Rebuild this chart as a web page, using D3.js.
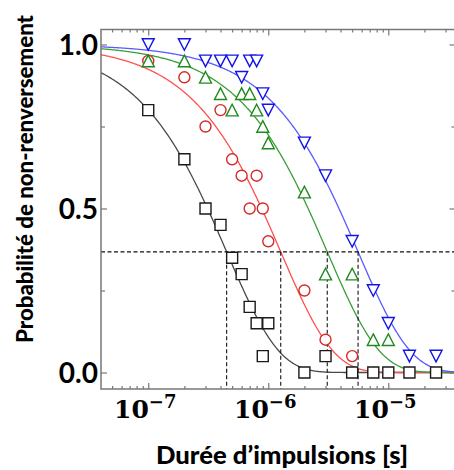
<!DOCTYPE html>
<html><head><meta charset="utf-8">
<script src="https://cdn.jsdelivr.net/npm/d3@7"></script>
<style>body{margin:0;background:#fff;overflow:hidden}</style>
</head><body>
<script>
// ---- data ----
const blackT = [1e-7,2e-7,3e-7,4e-7,5e-7,6e-7,7e-7,8e-7,9e-7,1e-6,2e-6,3e-6,5e-6,7.5e-6,1e-5,1.5e-5,2.5e-5];
const blackP = [0.80,0.65,0.50,0.45,0.35,0.30,0.20,0.15,0.05,0.15,0,0.05,0,0,0,0,0];
const redT = [1e-7,2e-7,3e-7,4e-7,5e-7,6e-7,7e-7,8e-7,9e-7,1e-6,2e-6,3e-6,5e-6];
const redP = [0.95,0.90,0.75,0.80,0.65,0.60,0.50,0.60,0.50,0.40,0.25,0.10,0.05];
const greenT = [1e-7,2e-7,3e-7,4e-7,5e-7,6e-7,7e-7,8e-7,9e-7,1e-6,2e-6,3e-6,5e-6,7.5e-6,1e-5];
const greenP = [0.95,0.95,0.90,0.85,0.80,0.85,0.85,0.80,0.75,0.70,0.55,0.30,0.30,0.10,0.10];
const blueT = [1e-7,2e-7,3e-7,4e-7,5e-7,6e-7,7e-7,8e-7,9e-7,1e-6,2e-6,3e-6,5e-6,7.5e-6,1e-5,1.5e-5,2.5e-5];
const blueP = [1.0,1.0,0.95,0.95,0.95,0.90,0.95,0.95,0.85,0.80,0.70,0.60,0.40,0.25,0.15,0.05,0.05];
// fit parameters P = exp(-(t/tau)^beta)
const fitTau = [4.5e-7, 1.27e-6, 3.1e-6, 5.6e-6];
const fitBeta = [1.0, 1.0, 1.0, 1.0];
const markerShapes = ["square","circle","up","down"];
const markerColors = ["#1a1a1a","#d42a2a","#1f8a1f","#1414e6"];
const curveColors = ["#4a4a4a","#ff5050","#3a9e3a","#5a5aff"];
const yMajor = [0, 0.5, 1.0];
const yMajorLabels = ["0.0","0.5","1.0"];
const yMinor = [0.25, 0.75];
const xMajor = [1e-7, 1e-6, 1e-5];
const xMajorExp = ["−7","−6","−5"];
const xLabel = "Durée d’impulsions [s]";
const yLabel = "Probabilité de non-renversement";
const threshold = Math.exp(-1);

const series = [
  {t: blackT, p: blackP}, {t: redT, p: redP}, {t: greenT, p: greenP}, {t: blueT, p: blueP}
];

// ---- layout ----
const W = 454, H = 470;
const L = 101, R = 455.5, T = 29.5, B = 389;
const x = d3.scaleLog().domain([4.04e-8, 3.63e-5]).range([L, R]);
const y = d3.scaleLinear().domain([-0.0503, 1.0457]).range([B, T]);

const svg = d3.select("body").append("svg").attr("width", W).attr("height", H);
svg.append("defs").append("clipPath").attr("id","clip")
  .append("rect").attr("x",L).attr("y",T).attr("width",R-L).attr("height",B-T);

const plot = svg.append("g").attr("clip-path","url(#clip)");

// fit curves
const [d0, d1] = x.domain();
const curveT = d3.range(0, 401).map(i => Math.pow(10, Math.log10(d0) + i/400*(Math.log10(d1)-Math.log10(d0))));
const line = d3.line().x(d => x(d[0])).y(d => y(d[1]));
fitTau.forEach((tau, i) => {
  plot.append("path")
    .attr("d", line(curveT.map(t => [t, Math.exp(-Math.pow(t/tau, fitBeta[i]))])))
    .attr("fill","none").attr("stroke", curveColors[i]).attr("stroke-width", 1.3);
});

// 1/e dashed lines
plot.append("line").attr("x1", L).attr("x2", R).attr("y1", y(threshold)).attr("y2", y(threshold))
  .attr("stroke","#111").attr("stroke-width",1.1).attr("stroke-dasharray","4,2.5");
fitTau.forEach(tau => {
  plot.append("line").attr("x1", x(tau)).attr("x2", x(tau)).attr("y1", y(threshold)).attr("y2", B)
    .attr("stroke","#111").attr("stroke-width",1.1).attr("stroke-dasharray","4,2.5");
});

// markers
function shapePath(s) {
  if (s === "square") return "M-5.5,-5.5H5.5V5.5H-5.5Z";
  if (s === "circle") return "M5.5,0A5.5,5.5 0 1,1 -5.5,0A5.5,5.5 0 1,1 5.5,0Z";
  if (s === "up") return "M0,-5.8L6,5.8L-6,5.8Z";
  return "M0,5.8L6,-5.8L-6,-5.8Z";
}
series.forEach((s, i) => {
  svg.append("g").selectAll("path").data(s.t.map((t, j) => [t, s.p[j]])).join("path")
    .attr("transform", d => `translate(${x(d[0])},${y(d[1])})`)
    .attr("d", shapePath(markerShapes[i]))
    .attr("fill", "#fff").attr("stroke", markerColors[i]).attr("stroke-width", 1.4);
});

// axes
const axisColor = "#777";
const minorX = [];
for (let e = -8; e <= -5; e++) for (let m = 2; m <= 9; m++) {
  const v = m * Math.pow(10, e);
  if (v > d0 && v < d1) minorX.push(v);
}
function styleAxis(g) {
  g.select(".domain").remove();
  g.selectAll(".tick line").attr("stroke", axisColor).attr("stroke-width", 1.2);
  g.selectAll(".tick text").remove();
}
svg.append("g").attr("transform",`translate(0,${B})`).call(d3.axisBottom(x).tickValues(xMajor).tickSize(-6)).call(styleAxis);
svg.append("g").attr("transform",`translate(0,${B})`).call(d3.axisBottom(x).tickValues(minorX).tickSize(-3)).call(styleAxis);
svg.append("g").attr("transform",`translate(0,${T})`).call(d3.axisTop(x).tickValues(xMajor).tickSize(-6)).call(styleAxis);
svg.append("g").attr("transform",`translate(0,${T})`).call(d3.axisTop(x).tickValues(minorX).tickSize(-3)).call(styleAxis);
svg.append("g").attr("transform",`translate(${L},0)`).call(d3.axisLeft(y).tickValues(yMajor).tickSize(-6)).call(styleAxis);
svg.append("g").attr("transform",`translate(${L},0)`).call(d3.axisLeft(y).tickValues(yMinor).tickSize(-4)).call(styleAxis);
svg.append("g").attr("transform",`translate(${R},0)`).call(d3.axisRight(y).tickValues(yMajor).tickSize(-6)).call(styleAxis);
svg.append("g").attr("transform",`translate(${R},0)`).call(d3.axisRight(y).tickValues(yMinor).tickSize(-4)).call(styleAxis);

// frame
svg.append("rect").attr("x",L).attr("y",T).attr("width",R-L).attr("height",B-T)
  .attr("fill","none").attr("stroke",axisColor).attr("stroke-width",1.5);

// tick labels
yMajor.forEach((v, i) => {
  svg.append("text").attr("x", 98).attr("y", y(v)).attr("dy","0.37em")
    .attr("text-anchor","end").attr("font-family","Lato").attr("font-weight","bold")
    .attr("font-size", 28).attr("fill","#000").text(yMajorLabels[i]);
});
xMajor.forEach((v, i) => {
  const t = svg.append("text").attr("x", x(v) - 3).attr("y", 418)
    .attr("text-anchor","middle").attr("font-family","DejaVu Serif").attr("font-weight","bold")
    .attr("fill","#000");
  t.append("tspan").attr("font-size", 25).text("10");
  t.append("tspan").attr("font-size", 18).attr("dy", -10).text(xMajorExp[i]);
});

// axis titles
svg.append("text").attr("x", 282).attr("y", 464).attr("text-anchor","middle")
  .attr("font-family","Lato").attr("font-weight",900).attr("font-size", 24)
  .attr("textLength", 252).attr("lengthAdjust","spacingAndGlyphs")
  .attr("fill","#000").text(xLabel);
svg.append("text").attr("transform","translate(33,179) rotate(-90)").attr("text-anchor","middle")
  .attr("font-family","Lato").attr("font-weight",900).attr("font-size", 22.5)
  .attr("textLength", 328).attr("lengthAdjust","spacingAndGlyphs")
  .attr("fill","#000").text(yLabel);
</script>
</body></html>
